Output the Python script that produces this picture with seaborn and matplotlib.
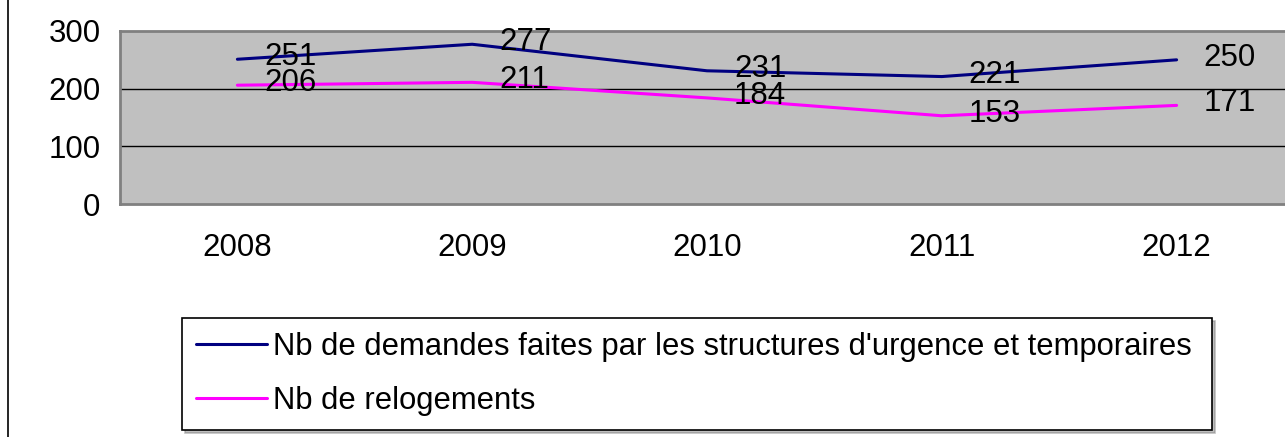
import matplotlib
matplotlib.use("Agg")
import matplotlib.pyplot as plt
import seaborn as sns
import pandas as pd
from matplotlib.lines import Line2D

years = ["2008", "2009", "2010", "2011", "2012"]
demandes = [251, 277, 231, 221, 250]
relogements = [206, 211, 184, 153, 171]
series_names = ["Nb de demandes faites par les structures d'urgence et temporaires",
                "Nb de relogements"]
colors = ["#000080", "#FF00FF"]

df = pd.DataFrame({
    "x": list(range(len(years))) * 2,
    "value": demandes + relogements,
    "serie": [series_names[0]] * len(years) + [series_names[1]] * len(years),
})

sns.set_style("white")
plt.rcParams["font.family"] = ["Liberation Sans", "DejaVu Sans"]
plt.rcParams["text.color"] = "black"
plt.rcParams["xtick.color"] = "black"
plt.rcParams["ytick.color"] = "black"

W, H = 1285, 437
fs = 22.5
fig = plt.figure(figsize=(W / 100, H / 100), dpi=100)
ax = fig.add_axes([120 / W, (H - 204) / H, 1174 / W, 173 / H])
ax.set_facecolor("#C0C0C0")

sns.lineplot(data=df, x="x", y="value", hue="serie", palette=colors,
             linewidth=2.2, ax=ax, legend=False)

ax.set_xlim(-0.5, 4.5)
ax.set_ylim(0, 300)
ax.set_yticks([0, 100, 200, 300])
ax.set_xticks([])
ax.set_xticks([-0.5, 0.5, 1.5, 2.5, 3.5, 4.5], minor=True)
ax.tick_params(axis="x", which="minor", length=8, color="black", width=1, direction="out")
ax.tick_params(axis="y", length=9, color="#606060", width=1, direction="out",
               labelsize=fs, pad=5, labelcolor="black")
ax.set_xlabel("")
ax.set_ylabel("")
ax.grid(False)
for yv in [100, 200]:
    ax.axhline(yv, color="black", linewidth=1, zorder=1)

for s in ax.spines.values():
    s.set_color("#808080")
    s.set_linewidth(2)

for i, y in enumerate(years):
    ax.text(i, -0.255, y, transform=ax.get_xaxis_transform(), ha="center",
            va="center", fontsize=fs, color="black")

for vals in (demandes, relogements):
    for i, v in enumerate(vals):
        ax.annotate(str(v), (i, v), xytext=(27, 2), textcoords="offset pixels",
                    ha="left", va="center", fontsize=fs, color="black")

fig.add_artist(Line2D([8 / W, 8 / W], [0, 1], color="black", linewidth=1.2,
                      transform=fig.transFigure))

handles = [Line2D([], [], color=c, linewidth=2.2) for c in colors]
leg = fig.legend(handles, series_names, loc="center left",
                 bbox_to_anchor=(182 / W, 4 / H, 1030 / W, 118 / H),
                 mode="expand", frameon=True, fontsize=22.3, handlelength=2.3,
                 handletextpad=0.2, labelspacing=0.78, borderaxespad=0,
                 borderpad=0.45, fancybox=False,
                 shadow={"ox": 2, "oy": -2, "color": "#808080"})
leg.get_frame().set_edgecolor("black")
leg.get_frame().set_linewidth(1.2)
for t in leg.get_texts():
    t.set_color("black")

fig.savefig("out.png", dpi=100)
